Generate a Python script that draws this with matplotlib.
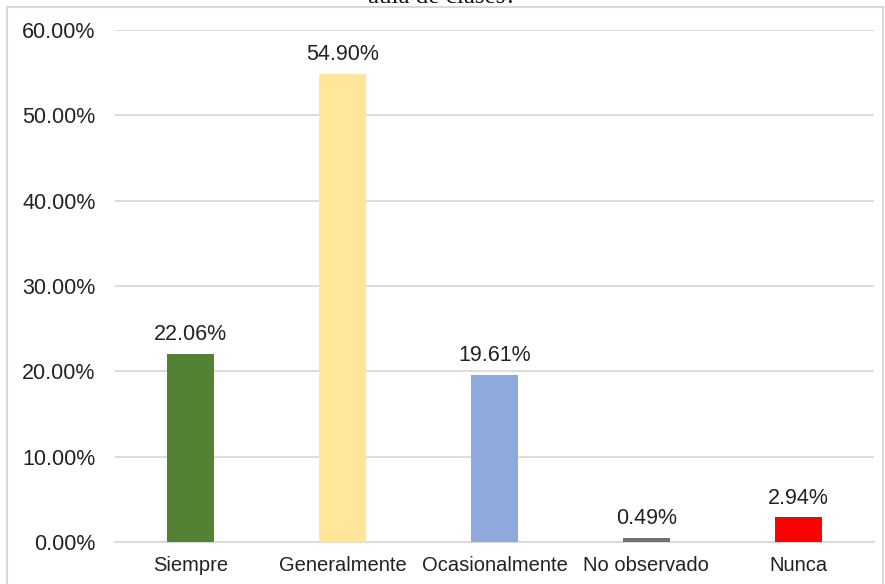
"""Bar chart: frequency of responses (percent) per category."""

import matplotlib.pyplot as plt
from matplotlib.patches import Rectangle
from matplotlib.ticker import FuncFormatter

CATEGORIES = ["Siempre", "Generalmente", "Ocasionalmente", "No observado", "Nunca"]
PERCENTS = [22.06, 54.90, 19.61, 0.49, 2.94]
COLORS = ["#548235", "#FFE699", "#8EA9DB", "#767171", "#FF0000"]
TITLE = "aula de clases?"

W, H = 885, 584
GRID = "#D9D9D9"

plt.rcParams["font.family"] = ["Liberation Sans", "DejaVu Sans"]

fig = plt.figure(figsize=(W / 100, H / 100), dpi=100)
ax = fig.add_axes([115 / W, 1 - 542 / H, (874 - 115) / W, (542 - 30) / H])

x = range(len(CATEGORIES))
bars = ax.bar(x, PERCENTS, width=0.31, color=COLORS, zorder=3)

for bar, v in zip(bars, PERCENTS):
    ax.annotate(f"{v:.2f}%", (bar.get_x() + bar.get_width() / 2, v),
                xytext=(0, 6), textcoords="offset points",
                ha="center", va="bottom", fontsize=15.5, color="#222222")

ax.set_xlim(-0.5, len(CATEGORIES) - 0.5)
ax.set_ylim(0, 60)
ax.set_yticks(range(0, 61, 10))
ax.yaxis.set_major_formatter(FuncFormatter(lambda v, _: f"{v:.2f}%"))
ax.set_xticks(list(x))
ax.set_xticklabels(CATEGORIES)
ax.tick_params(axis="y", length=0, pad=14, labelsize=15.5, labelcolor="#222222")
ax.tick_params(axis="x", length=0, pad=10, labelsize=14.5, labelcolor="#222222")

ax.grid(axis="y", color=GRID, linewidth=1.3, zorder=0)
for side in ["top", "right", "left"]:
    ax.spines[side].set_visible(False)
ax.spines["bottom"].set_color(GRID)
ax.spines["bottom"].set_linewidth(1.3)

# outer chart frame (bottom edge runs past the image)
fig.patches.append(Rectangle((7 / W, -0.05), (883 - 7) / W, 1.05 - 7 / H,
                             transform=fig.transFigure, fill=False,
                             edgecolor=GRID, linewidth=1.5))

# title is cut off by the top edge of the image
fig.text(0.5, 1 - 3 / H, TITLE, ha="center", va="baseline",
         fontsize=18, family=["Liberation Serif", "DejaVu Serif"], color="#111111")

fig.savefig("out.png", dpi=100)
